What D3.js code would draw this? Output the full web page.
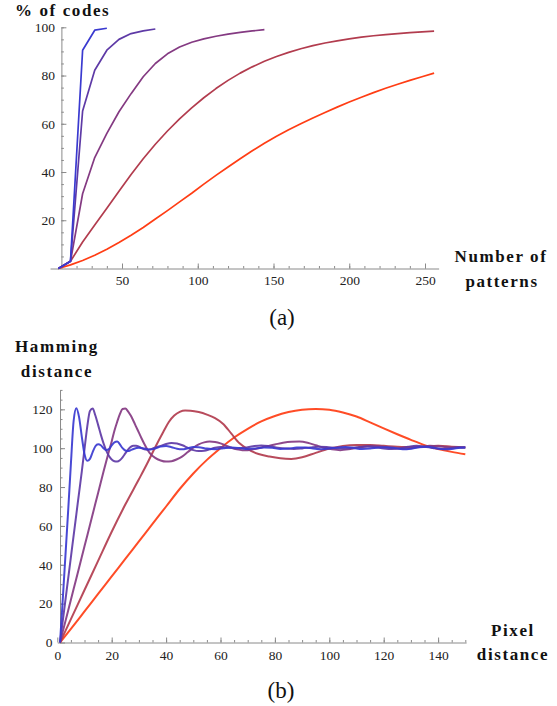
<!DOCTYPE html>
<html>
<head>
<meta charset="utf-8">
<script src="https://cdn.jsdelivr.net/npm/d3@7"></script>
<style>
body { margin: 0; background: #fff; }
svg text { font-family: "Liberation Serif", "Times New Roman", serif; }
.title { font-weight: bold; font-size: 17px; letter-spacing: 1.6px; fill: #111; }
.panel { font-size: 23px; fill: #111; }
.tick text { font-size: 13.5px; fill: #222; }
.axis path, .axis line { stroke: #8a8a8a; }
</style>
</head>
<body>
<svg id="chart" width="557" height="706"></svg>
<script>
// ---- panel (a) data : % of codes vs number of patterns ----
var patternsN = [8,16,24,32,40,48,56,64,72,80,88,96,104,112,120,128,136,144,152,160,168,176,184,192,200,208,216,224,232,240,248,256];
var codesBlue = [0,3,90.5,98.8,99.6];
var codesViolet = [0,3,65.3,82.2,90.5,95,97.4,98.5,99.3];
var codesPurple = [0,3,31,46,56,65,72.5,79.5,85,89,91.8,93.8,95.2,96.3,97.2,97.9,98.5,99];
var codesCrimson = [0,3,11,18,25,32,39,45.5,51.5,57,62,66.6,70.8,74.6,78,81,83.6,85.9,87.9,89.6,91.1,92.4,93.5,94.4,95.2,95.9,96.5,97,97.4,97.8,98.1,98.4];
var codesOrange = [0,1.5,3.3,5.5,8,10.8,13.8,17,20.5,24,27.6,31.2,35,38.6,42.1,45.5,48.8,51.9,54.8,57.5,60,62.4,64.7,66.9,69,71,72.9,74.7,76.4,78,79.5,81];
var ticksA_x = [50,100,150,200,250];
var ticksA_y = [20,40,60,80,100];

// ---- panel (b) data : hamming distance vs pixel distance ----
var hamBlueX = [1,2,3,4,5,6,7,8,9,10,11,12,13,14,15,16,17,18,19,20,21,22,23,24,25,26,27,28,30,32,34,36,38,40,42,44,46,48,50,52,55,58,61,64,67,70,73,76,79,82,85,88,91,94,97,100,103,106,109,112,115,118,121,124,127,130,133,136,139,142,145,148,150];
var hamBlueY = [0,22,45,68,92,114,120.6,116,106,97,93.5,94.5,98,101,102,101.5,100,99,99.5,101.5,103,103.4,102,100,98.8,98.5,99,99.6,100.2,99.8,99.3,99.8,100.8,101.1,100.5,99.7,99.4,100,100.6,100.5,99.8,99.5,100,100.4,100.1,99.6,99.9,100.4,100.2,99.6,99.8,100.3,100.4,99.9,99.5,99.8,100.4,100.6,100.1,99.6,99.8,100.3,100.5,100.1,99.4,99.7,100.5,100.7,100.1,99.5,99.6,100.2,100.3];
var hamVioletX = [1,2,3,4,5,6,7,8,9,10,11,12,13,14,15,16,17,18,19,20,21,22,23,24,25,26,27,28,29,30,31,32,33,34,35,36,38,40,42,44,46,48,50,52,54,56,58,60,63,66,69,72,75,78,81,84,87,90,93,96,99,102,105,108,111,114,117,120,123,126,129,132,135,138,141,144,147,150];
var hamVioletY = [0,11,22,33,44,55,66,77,88,99.5,111,119.2,120.4,116.8,112,107,102.5,98.8,96,94.2,93.3,93.1,93.8,95.3,97.3,99.3,100.7,101.3,101.3,100.8,100,99.4,99.2,99.4,99.8,100.3,101.2,102.2,102.7,102.4,101.5,100.2,99,98.5,98.7,99.4,100.2,100.6,100.4,99.9,100.3,101,101.4,101,100.3,99.8,99.6,99.9,100.4,100.8,100.6,100.1,99.8,100.1,100.6,100.9,100.5,99.9,99.6,100,100.7,101.2,100.8,100.1,99.6,99.9,100.5,100.3];
var hamPurpleX = [1,3,5,7,9,11,13,15,17,19,20,21,22,23,24,25,26,27,28,29,30,31,32,34,36,38,40,42,44,46,48,50,52,54,56,58,60,62,64,66,68,70,72,74,76,78,80,83,86,89,92,95,98,101,104,107,110,113,116,119,122,125,128,131,134,137,140,143,146,150];
var hamPurpleY = [0,11,22,33,44,55,66,77,88,98.5,103.5,109,113.5,117.5,120.2,120.4,119,116.8,114,111,108,105,102.2,97.5,95,93.7,93.1,93.3,94.3,95.8,98,100.2,102,103,103.4,103.2,102.5,101.3,100.2,99.4,99,99,99.4,100,100.7,101.3,101.9,102.8,103.3,103.4,102.8,101.5,100.2,99.4,99,99.4,100.2,100.9,101.2,100.9,100.3,99.8,99.7,100.2,100.8,101.2,101,100.6,100.3,100.5];
var hamCrimsonX = [1,5,10,15,20,25,30,33,36,39,41,43,45,47,49,52,55,58,61,64,67,70,74,78,82,86,90,95,100,105,110,115,120,125,130,135,140,145,150];
var hamCrimsonY = [0,12,27,42,57,71,84,92,100.5,108.5,113.5,116.8,118.7,119.4,119.3,118.6,117.3,115.5,112.5,107.5,102.5,99.5,97,95.7,94.8,94.5,95.3,97.6,99.8,101.2,101.7,101.6,101.2,100.8,100.6,100.9,101.2,100.8,100.4];
var hamOrangeX = [1,5,10,15,20,25,30,35,40,45,50,55,60,65,70,75,80,85,90,95,100,105,110,115,120,125,130,135,140,145,150];
var hamOrangeY = [0,7,16,25,34,43,52,61,70,79,87,94,100,105.5,110,113.8,116.6,118.6,119.8,120.2,119.8,118.4,116.3,113.3,110.2,107.2,104.3,101.6,99.6,98.1,96.9];
var ticksB_x = [0,20,40,60,80,100,120,140];
var ticksB_y = [0,20,40,60,80,100,120];

// colours, blue -> orange
var colBlue = "#3a3ad0", colViolet = "#5e3aa6", colPurple = "#843a82",
    colCrimson = "#b23c4e", colOrange = "#ff3d14";

var svg = d3.select("#chart");

// ================= panel (a) =================
var xA = d3.scaleLinear().domain([2.5, 259]).range([46.25 + 1.515 * 2.5, 46.25 + 1.515 * 259]);
var yA = d3.scaleLinear().domain([0, 100]).range([268.5, 27.3]);

var gA = svg.append("g");

// minor ticks first, then the labelled ones
gA.append("g").attr("class", "axis")
  .attr("transform", "translate(0," + yA(0) + ")")
  .call(d3.axisBottom(xA).tickValues(d3.range(20, 260, 10)).tickSizeInner(-2.5).tickSizeOuter(0).tickFormat(""));
gA.append("g").attr("class", "axis")
  .attr("transform", "translate(0," + yA(0) + ")")
  .call(d3.axisBottom(xA).tickValues(ticksA_x).tickSizeInner(-5).tickSizeOuter(0).tickPadding(7))
  .select(".domain").remove();

gA.append("g").attr("class", "axis")
  .attr("transform", "translate(" + xA(10) + ",0)")
  .call(d3.axisLeft(yA).tickValues(d3.range(5, 101, 5)).tickSizeInner(-2.5).tickSizeOuter(0).tickFormat(""));
gA.append("g").attr("class", "axis")
  .attr("transform", "translate(" + xA(10) + ",0)")
  .call(d3.axisLeft(yA).tickValues(ticksA_y).tickSizeInner(-5).tickSizeOuter(0).tickPadding(6.5))
  .select(".domain").remove();

var lineA = d3.line()
  .x(function(d) { return xA(d[0]); })
  .y(function(d) { return yA(d[1]); });

var seriesA = [
  {vals: codesOrange, col: colOrange},
  {vals: codesCrimson, col: colCrimson},
  {vals: codesPurple, col: colPurple},
  {vals: codesViolet, col: colViolet},
  {vals: codesBlue, col: colBlue}
];
seriesA.forEach(function(s) {
  var pts = d3.zip(patternsN.slice(0, s.vals.length), s.vals);
  gA.append("path").datum(pts)
    .attr("d", lineA)
    .attr("fill", "none")
    .attr("stroke", s.col)
    .attr("stroke-width", 1.7)
    .attr("stroke-linejoin", "round");
});

svg.append("text").attr("class", "title").attr("x", 15).attr("y", 16).text("% of codes");
svg.append("text").attr("class", "title").attr("x", 501).attr("y", 262).attr("text-anchor", "middle").text("Number of");
svg.append("text").attr("class", "title").attr("x", 502).attr("y", 287).attr("text-anchor", "middle").text("patterns");
svg.append("text").attr("class", "panel").attr("x", 282).attr("y", 325).attr("text-anchor", "middle").text("(a)");

// ================= panel (b) =================
var xB = d3.scaleLinear().domain([0, 150.3]).range([57.3, 57.3 + 2.72 * 150.3]);
var yB = d3.scaleLinear().domain([0, 130]).range([642.5, 642.5 - 1.943 * 130]);

var gB = svg.append("g");

gB.append("g").attr("class", "axis")
  .attr("transform", "translate(0," + yB(0) + ")")
  .call(d3.axisBottom(xB).tickValues(d3.range(5, 151, 5)).tickSizeInner(-2.5).tickSizeOuter(0).tickFormat(""));
gB.append("g").attr("class", "axis")
  .attr("transform", "translate(0," + yB(0) + ")")
  .call(d3.axisBottom(xB).tickValues(ticksB_x).tickSizeInner(-5).tickSizeOuter(0).tickPadding(8))
  .select(".domain").remove();

gB.append("g").attr("class", "axis")
  .attr("transform", "translate(" + xB(1) + ",0)")
  .call(d3.axisLeft(yB).tickValues(d3.range(5, 131, 5)).tickSizeInner(-2.5).tickSizeOuter(0).tickFormat(""));
gB.append("g").attr("class", "axis")
  .attr("transform", "translate(" + xB(1) + ",0)")
  .call(d3.axisLeft(yB).tickValues(ticksB_y).tickSizeInner(-5).tickSizeOuter(0).tickPadding(7.5))
  .select(".domain").remove();

var lineB = d3.line()
  .curve(d3.curveMonotoneX)
  .x(function(d) { return xB(d[0]); })
  .y(function(d) { return yB(d[1]); });

var seriesB = [
  {xs: hamOrangeX, ys: hamOrangeY, col: colOrange},
  {xs: hamCrimsonX, ys: hamCrimsonY, col: colCrimson},
  {xs: hamPurpleX, ys: hamPurpleY, col: colPurple},
  {xs: hamVioletX, ys: hamVioletY, col: colViolet},
  {xs: hamBlueX, ys: hamBlueY, col: colBlue}
];
seriesB.forEach(function(s) {
  gB.append("path").datum(d3.zip(s.xs, s.ys))
    .attr("d", lineB)
    .attr("fill", "none")
    .attr("stroke", s.col)
    .attr("stroke-width", 2)
    .attr("stroke-opacity", 0.92)
    .attr("stroke-linejoin", "round");
});

svg.append("text").attr("class", "title").attr("x", 57).attr("y", 352).attr("text-anchor", "middle").text("Hamming");
svg.append("text").attr("class", "title").attr("x", 57).attr("y", 377).attr("text-anchor", "middle").text("distance");
svg.append("text").attr("class", "title").attr("x", 513).attr("y", 636).attr("text-anchor", "middle").text("Pixel");
svg.append("text").attr("class", "title").attr("x", 513).attr("y", 660).attr("text-anchor", "middle").text("distance");
svg.append("text").attr("class", "panel").attr("x", 281).attr("y", 698).attr("text-anchor", "middle").text("(b)");
</script>
</body>
</html>
